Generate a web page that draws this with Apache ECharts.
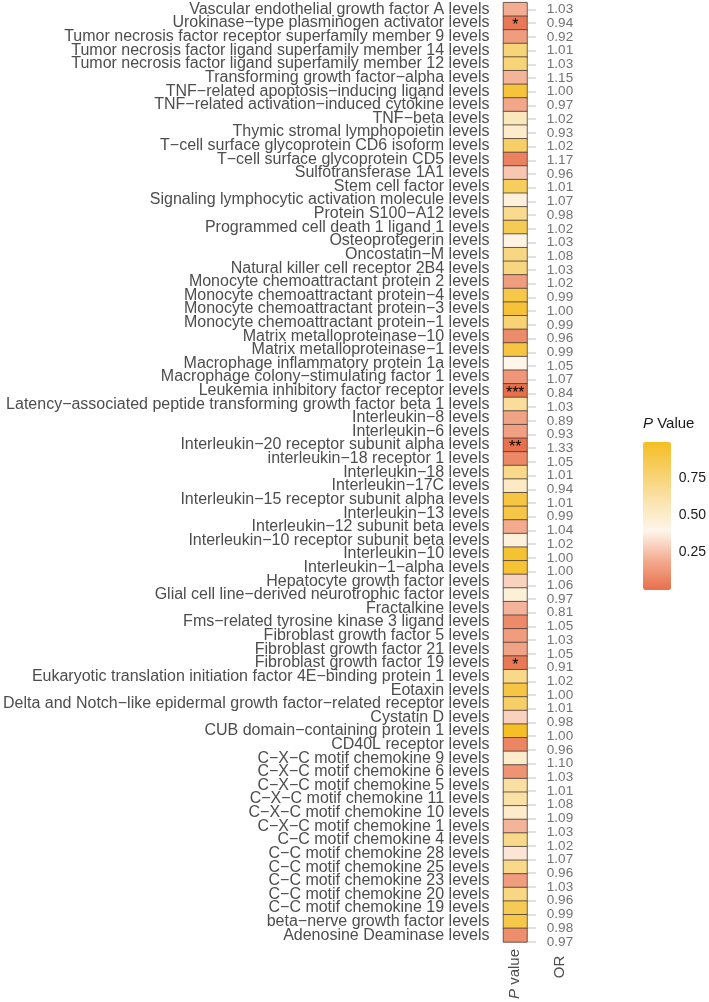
<!DOCTYPE html>
<html>
<head>
<meta charset="utf-8">
<script src="https://cdn.jsdelivr.net/npm/echarts@6/dist/echarts.min.js"></script>
<style>html,body{margin:0;padding:0;background:#fff;}#main{width:709px;height:1002px;}</style>
</head>
<body>
<div id="main"></div>
<script>
const categories = [
"Vascular endothelial growth factor A levels",
"Urokinase−type plasminogen activator levels",
"Tumor necrosis factor receptor superfamily member 9 levels",
"Tumor necrosis factor ligand superfamily member 14 levels",
"Tumor necrosis factor ligand superfamily member 12 levels",
"Transforming growth factor−alpha levels",
"TNF−related apoptosis−inducing ligand levels",
"TNF−related activation−induced cytokine levels",
"TNF−beta levels",
"Thymic stromal lymphopoietin levels",
"T−cell surface glycoprotein CD6 isoform levels",
"T−cell surface glycoprotein CD5 levels",
"Sulfotransferase 1A1 levels",
"Stem cell factor levels",
"Signaling lymphocytic activation molecule levels",
"Protein S100−A12 levels",
"Programmed cell death 1 ligand 1 levels",
"Osteoprotegerin levels",
"Oncostatin−M levels",
"Natural killer cell receptor 2B4 levels",
"Monocyte chemoattractant protein 2 levels",
"Monocyte chemoattractant protein−4 levels",
"Monocyte chemoattractant protein−3 levels",
"Monocyte chemoattractant protein−1 levels",
"Matrix metalloproteinase−10 levels",
"Matrix metalloproteinase−1 levels",
"Macrophage inflammatory protein 1a levels",
"Macrophage colony−stimulating factor 1 levels",
"Leukemia inhibitory factor receptor levels",
"Latency−associated peptide transforming growth factor beta 1 levels",
"Interleukin−8 levels",
"Interleukin−6 levels",
"Interleukin−20 receptor subunit alpha levels",
"interleukin−18 receptor 1 levels",
"Interleukin−18 levels",
"Interleukin−17C levels",
"Interleukin−15 receptor subunit alpha levels",
"Interleukin−13 levels",
"Interleukin−12 subunit beta levels",
"Interleukin−10 receptor subunit beta levels",
"Interleukin−10 levels",
"Interleukin−1−alpha levels",
"Hepatocyte growth factor levels",
"Glial cell line−derived neurotrophic factor levels",
"Fractalkine levels",
"Fms−related tyrosine kinase 3 ligand levels",
"Fibroblast growth factor 5 levels",
"Fibroblast growth factor 21 levels",
"Fibroblast growth factor 19 levels",
"Eukaryotic translation initiation factor 4E−binding protein 1 levels",
"Eotaxin levels",
"Delta and Notch−like epidermal growth factor−related receptor levels",
"Cystatin D levels",
"CUB domain−containing protein 1 levels",
"CD40L receptor levels",
"C−X−C motif chemokine 9 levels",
"C−X−C motif chemokine 6 levels",
"C−X−C motif chemokine 5 levels",
"C−X−C motif chemokine 11 levels",
"C−X−C motif chemokine 10 levels",
"C−X−C motif chemokine 1 levels",
"C−C motif chemokine 4 levels",
"C−C motif chemokine 28 levels",
"C−C motif chemokine 25 levels",
"C−C motif chemokine 23 levels",
"C−C motif chemokine 20 levels",
"C−C motif chemokine 19 levels",
"beta−nerve growth factor levels",
"Adenosine Deaminase levels"
];

const pValues = [
0.20, 0.03, 0.15, 0.75, 0.75, 0.22, 0.92, 0.18, 0.55, 0.50,
0.80, 0.06, 0.27, 0.83, 0.45, 0.68, 0.85, 0.42, 0.72, 0.73,
0.15, 0.88, 0.93, 0.76, 0.09, 0.90, 0.40, 0.13, 0.0005, 0.65,
0.17, 0.16, 0.005, 0.08, 0.70, 0.52, 0.90, 0.89, 0.19, 0.45,
0.95, 0.94, 0.30, 0.46, 0.22, 0.09, 0.15, 0.17, 0.03, 0.70,
0.90, 0.80, 0.30, 0.98, 0.07, 0.50, 0.12, 0.63, 0.62, 0.50,
0.22, 0.70, 0.35, 0.70, 0.15, 0.72, 0.85, 0.88, 0.10
];

const orValues = [
1.03, 0.94, 0.92, 1.01, 1.03, 1.15, 1.00, 0.97, 1.02, 0.93,
1.02, 1.17, 0.96, 1.01, 1.07, 0.98, 1.02, 1.03, 1.08, 1.03,
1.02, 0.99, 1.00, 0.99, 0.96, 0.99, 1.05, 1.07, 0.84, 1.03,
0.89, 0.93, 1.33, 1.05, 1.01, 0.94, 1.01, 0.99, 1.04, 1.02,
1.00, 1.00, 1.06, 0.97, 0.81, 1.05, 1.03, 1.05, 0.91, 1.02,
1.00, 1.01, 0.98, 1.00, 0.96, 1.10, 1.03, 1.01, 1.08, 1.09,
1.03, 1.02, 1.07, 0.96, 1.03, 0.96, 0.99, 0.98, 0.97
];

const stars = categories.map(() => "");
stars[1] = "*"; stars[28] = "***"; stars[32] = "**"; stars[48] = "*";

const xLabels1 = ["P value"];
const xLabels2 = ["OR"];
const legendTicks = [0.25, 0.50, 0.75];

const FONT = "Liberation Sans, Arial, Helvetica, sans-serif";
const TOP = 2.65, H = 946;

const chart = echarts.init(document.getElementById('main'), null, {renderer: 'canvas'});
chart.setOption({
  animation: false,
  textStyle: {fontFamily: FONT},
  grid: [
    {left: 499, top: TOP, width: 28, height: H},
    {left: 536, top: TOP, width: 48, height: H},
    {left: 643, top: 442, width: 28, height: 148}
  ],
  xAxis: [
    {type: 'category', gridIndex: 0, data: xLabels1, axisLine: {show: false}, axisTick: {show: false},
     axisLabel: {rotate: 90, margin: 7, fontSize: 15, color: '#4d4d4d', fontFamily: FONT,
       formatter: () => '{i|P} value', rich: {i: {fontStyle: 'italic', fontSize: 15, color: '#4d4d4d', fontFamily: FONT}}}},
    {type: 'category', gridIndex: 1, data: xLabels2, axisLine: {show: false}, axisTick: {show: false},
     axisLabel: {rotate: 90, margin: 7, fontSize: 15, color: '#4d4d4d', fontFamily: FONT}},
    {type: 'value', gridIndex: 2, show: false, min: 0, max: 1}
  ],
  yAxis: [
    {type: 'category', gridIndex: 0, data: categories, inverse: true,
     axisLine: {show: false}, axisTick: {show: false}, splitLine: {show: false},
     axisLabel: {interval: 0, margin: 14, fontSize: 16, color: '#4d4d4d', fontFamily: FONT}},
    {type: 'category', gridIndex: 1, data: categories, inverse: true,
     axisLine: {show: false}, axisTick: {show: true, length: 8, lineStyle: {color: '#d6d6d6', width: 1.5}, alignWithLabel: true, interval: 0},
     axisLabel: {show: false}},
    {type: 'value', gridIndex: 2, min: 0, max: 0.99, position: 'right',
     axisLine: {show: false}, splitLine: {show: false},
     axisTick: {show: true, inside: true, length: 5, lineStyle: {color: '#ffffff', width: 1.2}, customValues: legendTicks},
     axisLabel: {show: true, margin: 8, fontSize: 14, color: '#1a1a1a', fontFamily: FONT, customValues: legendTicks,
       formatter: v => v.toFixed(2)}},
    {type: 'value', gridIndex: 2, min: 0, max: 0.99, position: 'left',
     axisLine: {show: false}, splitLine: {show: false},
     axisTick: {show: true, inside: true, length: 5, lineStyle: {color: '#ffffff', width: 1.2}, customValues: legendTicks},
     axisLabel: {show: false}}
  ],
  visualMap: {
    type: 'continuous', seriesIndex: 0, min: 0, max: 0.99, dimension: 2,
    left: 643, top: 442, itemWidth: 28, itemHeight: 148, padding: 0,
    calculable: false, hoverLink: false, orient: 'vertical', z: 1,
    inRange: {color: ['#E76F4A', '#F3AC90', '#FEF6EC', '#FAE3AE', '#F7D06A', '#F5BE22']}
  },
  graphic: [
    {type: 'text', left: 643, top: 416, style: {text: '{i|P} Value', fontSize: 15, fill: '#1a1a1a', fontFamily: FONT,
      rich: {i: {fontStyle: 'italic', fontSize: 15, fill: '#1a1a1a', fontFamily: FONT}}}}
  ],
  series: [
    {type: 'heatmap', xAxisIndex: 0, yAxisIndex: 0,
     data: categories.map((c, i) => [0, i, pValues[i], stars[i]]),
     itemStyle: {borderColor: '#4a3a33', borderWidth: 0.8},
     label: {show: true, formatter: p => p.data[3], color: '#000', fontSize: 16, offset: [0, 3], fontFamily: FONT}},
    {type: 'scatter', xAxisIndex: 1, yAxisIndex: 1, symbolSize: 1, itemStyle: {color: 'rgba(0,0,0,0)'},
     data: categories.map((c, i) => [0, i, orValues[i]]),
     label: {show: true, position: 'inside', formatter: p => p.data[2].toFixed(2), color: '#4d4d4d', fontSize: 13.5, fontFamily: FONT}}
  ]
});
</script>
</body>
</html>
